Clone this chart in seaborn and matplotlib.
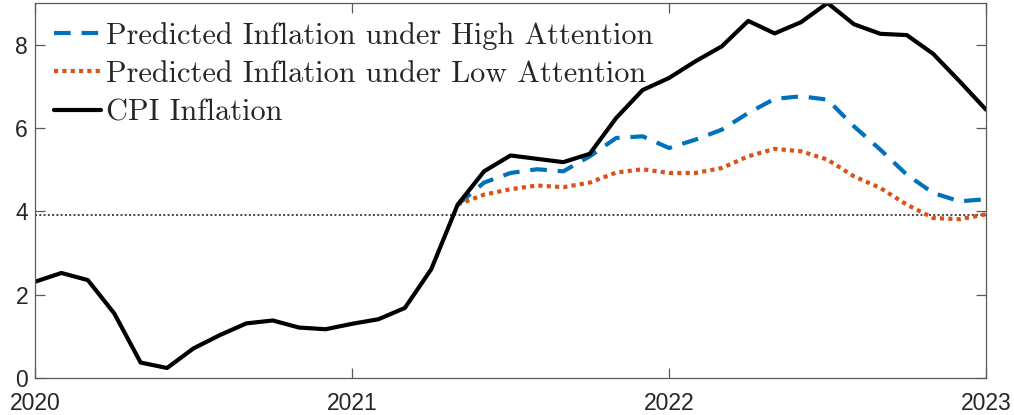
import numpy as np
import pandas as pd
import seaborn as sns
import matplotlib.pyplot as plt

# monthly data, Jan 2020 .. Jan 2023
cpi = [2.31, 2.52, 2.35, 1.55, 0.37, 0.24, 0.71, 1.03, 1.31, 1.38, 1.21, 1.17,
       1.30, 1.41, 1.68, 2.61, 4.16, 4.96, 5.34, 5.26, 5.18, 5.38, 6.24, 6.91,
       7.20, 7.60, 7.96, 8.57, 8.27, 8.54, 9.00, 8.49, 8.26, 8.23, 7.78, 7.12,
       6.44]
# predictions start May 2021
high_att = [4.16, 4.69, 4.92, 5.01, 4.96, 5.32, 5.76, 5.80,
            5.52, 5.72, 5.96, 6.36, 6.70, 6.76, 6.68, 6.04, 5.48, 4.88, 4.44, 4.24,
            4.29]
low_att = [4.16, 4.40, 4.53, 4.62, 4.58, 4.69, 4.93, 5.01,
           4.92, 4.92, 5.04, 5.32, 5.50, 5.44, 5.24, 4.84, 4.56, 4.16, 3.84, 3.81,
           3.93]
ref_level = 3.9
year_ticks = [2020, 2021, 2022, 2023]

t = 2020 + np.arange(len(cpi)) / 12
t_pred = t[len(cpi) - len(high_att):]

df_cpi = pd.DataFrame({"t": t, "v": cpi})
df_pred = pd.DataFrame({"t": t_pred, "high": high_att, "low": low_att})

sns.set_style("ticks")
plt.rcParams["font.family"] = ["Liberation Sans", "DejaVu Sans"]

fig = plt.figure(figsize=(10.14, 4.15), dpi=100)
ax = fig.add_axes([0.0345, 0.0892, 0.9379, 0.9036])

lw = 3.0
ax.axhline(ref_level, color="#444444", lw=1.4, ls=(0, (1, 1.2)), zorder=1)
sns.lineplot(data=df_pred, x="t", y="high", ax=ax, color="#0072BD", lw=lw,
             label="Predicted Inflation under High Attention")
ax.lines[-1].set_linestyle((0, (4.0, 2.6)))
sns.lineplot(data=df_pred, x="t", y="low", ax=ax, color="#D95319", lw=lw,
             label="Predicted Inflation under Low Attention")
ax.lines[-1].set_linestyle((0, (1, 1)))
sns.lineplot(data=df_cpi, x="t", y="v", ax=ax, color="black", lw=lw,
             label="CPI Inflation")

ax.set_xlim(2020, 2023)
ax.set_ylim(0, 9)
ax.set_xticks(year_ticks)
ax.set_xticklabels([str(y) for y in year_ticks])
ax.set_yticks([0, 2, 4, 6, 8])
ax.set_xlabel("")
ax.set_ylabel("")
for s in ax.spines.values():
    s.set_visible(True)
    s.set_color("#5a5a5a")
    s.set_linewidth(0.9)
ax.tick_params(direction="in", length=7, width=0.9, color="#5a5a5a",
               labelsize=16.5, labelcolor="#262626", top=True, right=True)
ax.tick_params(axis="x", pad=10)
ax.tick_params(axis="y", pad=5)

ax.legend(loc="upper left", bbox_to_anchor=(0.0, 1.0), frameon=False,
          prop={"family": "cmr10", "size": 21.8}, handlelength=1.55,
          handletextpad=0.16, labelspacing=0.36, borderaxespad=0.22)

fig.savefig("out.png", dpi=100)
